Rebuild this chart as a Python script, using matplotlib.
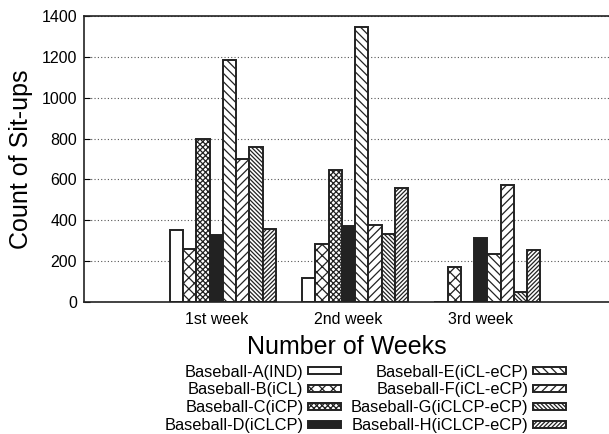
import numpy as np
import matplotlib
matplotlib.use("Agg")
import matplotlib.pyplot as plt

plt.rcParams["font.family"] = ["Liberation Sans", "DejaVu Sans"]
plt.rcParams["hatch.linewidth"] = 0.9

weeks = ["1st week", "2nd week", "3rd week"]
teams = [
    "Baseball-A(IND)", "Baseball-B(iCL)", "Baseball-C(iCP)", "Baseball-D(iCLCP)",
    "Baseball-E(iCL-eCP)", "Baseball-F(iCL-eCP)", "Baseball-G(iCLCP-eCP)",
    "Baseball-H(iCLCP-eCP)",
]
situps = [
    [352, 117, 0],      # A
    [261, 284, 170],    # B
    [796, 646, 0],      # C
    [326, 372, 315],    # D
    [1184, 1344, 235],  # E
    [701, 375, 573],    # F
    [759, 331, 47],     # G
    [356, 559, 254],    # H
]

fills = ["white", "white", "white", "#222222", "white", "white", "white", "white"]
hatches = [None, "xxx", "xxxxxx", None, "\\" * 4, "/" * 4, "\\" * 8, "/" * 8]

fig = plt.figure(figsize=(6.09, 4.34), dpi=100)
ax = fig.add_axes([0.138, 0.304, 0.862, 0.659])

x = np.arange(len(weeks))
width = 0.1
for i, (name, vals) in enumerate(zip(teams, situps)):
    offset = (i - 3.5) * width
    ax.bar(x + offset, vals, width, color=fills[i], edgecolor="#222222",
           linewidth=1.4, hatch=hatches[i], label=name, zorder=2)

ax.set_xlim(-1.05, 2.92)
ax.set_ylim(0, 1400)
ax.set_yticks(range(0, 1401, 200))
ax.set_xticks(x - 0.05)
ax.set_xticklabels(weeks)
ax.tick_params(axis="x", length=0, pad=7, labelsize=11.5)
ax.tick_params(axis="y", direction="in", length=4, pad=5, labelsize=11.5)
ax.yaxis.grid(True, linestyle=(0, (1, 2)), color="#555555", linewidth=0.8)
ax.set_axisbelow(True)
for side in ["left", "top", "bottom"]:
    ax.spines[side].set_linewidth(1.2)
    ax.spines[side].set_color("#222222")
ax.spines["right"].set_visible(False)

ax.set_ylabel("Count of Sit-ups", fontsize=18)
ax.yaxis.set_label_coords(-0.098, 0.5)
ax.set_xlabel("Number of Weeks", fontsize=18, labelpad=6)

fig.legend(loc="upper right", bbox_to_anchor=(0.943, 0.179), ncol=2,
           markerfirst=False, frameon=False, fontsize=11.8,
           handlelength=2.0, handleheight=0.33, handletextpad=0.3,
           labelspacing=0.18, columnspacing=0.6, borderpad=0)

fig.savefig("out.png", dpi=100)
